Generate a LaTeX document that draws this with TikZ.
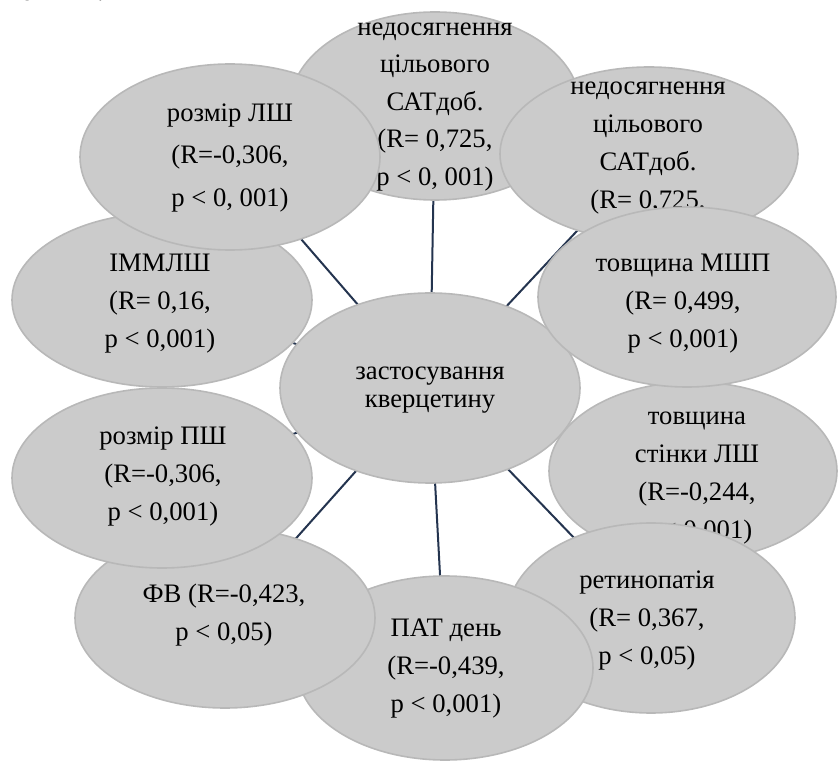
\documentclass[tikz,border=0pt]{standalone}
\usepackage{fontspec}
\setmainfont{Liberation Serif}
\newfontfamily\tnr{Liberation Serif}
\usetikzlibrary{shapes.geometric}
\pgfdeclarelayer{bg}
\pgfsetlayers{bg,main}
\definecolor{bubfill}{RGB}{203,203,203}
\definecolor{bubrim}{RGB}{184,184,184}
\definecolor{linkc}{RGB}{36,52,79}
\tikzset{
  bub/.style={ellipse, inner sep=0pt, draw=bubrim, line width=1.2pt,
    fill=bubfill},
  lbl/.style={align=center, inner sep=0pt, text=black,
    font=\tnr\fontsize{20}{28.5}\selectfont},
  link/.style={draw=linkc, line width=1.5pt},
}
\begin{document}
\begin{tikzpicture}[x=0.75pt, y=-0.75pt]
\useasboundingbox (0,0) rectangle (839,762);
% cut-off line of the text above
\node[anchor=base west, inner sep=0pt, font=\tnr\fontsize{20}{24}\selectfont] (prev) at (8,1) {вон ТП .};
% centre
\node[bub, minimum width=225pt, minimum height=142.5pt] (c) at (430,388) {};
\node[lbl, font=\tnr\fontsize{20}{20.5}\selectfont] (ct) at (430,390) {застосування\\кверцетину};
% top centre
\node[bub, minimum width=217.5pt, minimum height=141pt] (tc) at (435,106) {};
\node[lbl, font=\tnr\fontsize{20}{28.1}\selectfont] (tct) at (435,107) {недосягнення\\цільового\\САТдоб.\\(R= 0,725,\\p < 0, 001)};
% top right
\node[bub, minimum width=223.5pt, minimum height=130.5pt] (tr) at (649,154) {};
\node[lbl] (trt) at (648,148) {недосягнення\\цільового\\САТдоб.\\(R= 0,725,};
% lower right group
\node[bub, minimum width=216pt, minimum height=133.5pt] (st) at (693,471) {};
\node[lbl] (stt) at (697,478) {товщина\\стінки ЛШ\\ (R=-0,244,\\p < 0,001)};
\node[bub, minimum width=223.5pt, minimum height=135pt] (ms) at (687,297) {};
\node[lbl] (mst) at (683,304) {товщина МШП\\(R= 0,499,\\p < 0,001)};
\node[bub, minimum width=216pt, minimum height=142.5pt] (rt) at (651,618) {};
\node[lbl] (rtt) at (647,621) {ретинопатія\\(R= 0,367,\\p < 0,05)};
% bottom
\node[bub, minimum width=222pt, minimum height=138pt] (pa) at (445,668) {};
\node[lbl] (pat) at (446,669) {ПАТ день\\(R=-0,439,\\p < 0,001)};
% left
\node[bub, minimum width=225pt, minimum height=135pt] (fv) at (225,618) {};
\node[lbl] (fvt) at (224,615) {ФВ (R=-0,423,\\p < 0,05)};
\node[bub, minimum width=225pt, minimum height=135pt] (ps) at (162,478) {};
\node[lbl] (pst) at (163,477) {розмір ПШ\\ (R=-0,306,\\p < 0,001)};
\node[bub, minimum width=225pt, minimum height=130.5pt] (im) at (162,300) {};
\node[lbl] (imt) at (160,304) {ІММЛШ\\(R= 0,16,\\p < 0,001)};
\node[bub, minimum width=225pt, minimum height=139.5pt] (ls) at (230,157) {};
\node[lbl, font=\tnr\fontsize{20}{32}\selectfont] (lst) at (230,158) {розмір ЛШ\\(R=-0,306,\\ p < 0, 001)};
% connectors
\begin{pgfonlayer}{bg}
  \foreach \n in {tc,tr,ms,st,rt,pa,fv,ps,im,ls}
    \draw[link] (c.center) -- (\n.center);
\end{pgfonlayer}
\end{tikzpicture}
\end{document}
